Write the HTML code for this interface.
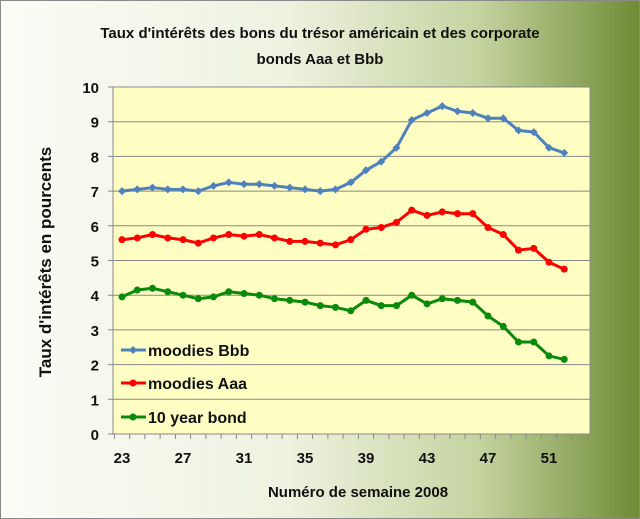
<!DOCTYPE html>
<html><head><meta charset="utf-8"><style>
body{margin:0;width:640px;height:519px;overflow:hidden}
#c{position:absolute;left:0;top:0;width:638px;height:517px;border:1px solid #8a8a8a;background:linear-gradient(to right,#fbfcf6 0%,#eef2e0 45%,#c5d3a0 75%,#6f8c35 100%)}
svg{position:absolute;left:0;top:0}
text{font-family:"Liberation Sans",sans-serif;font-weight:bold;fill:#111}
</style></head><body><div id="c"></div>
<svg id="s" width="640" height="519"></svg>
<script>
var s=document.getElementById('s'),h='';
var L=113,R=590,T=87,B=434,u=(B-T)/10;
function X(w){return 122+(w-23)*15.25}
function Y(v){return B-v*u}
h+='<rect x="'+L+'" y="'+T+'" width="'+(R-L)+'" height="'+(B-T)+'" fill="#ffffc4" stroke="#888"/>';
for(var i=0;i<=10;i++){var y=Y(i);h+='<line x1="'+(L-5)+'" x2="'+R+'" y1="'+y+'" y2="'+y+'" stroke="#888"/>';h+='<text x="'+(L-14)+'" y="'+(y+6)+'" font-size="15" text-anchor="end">'+i+'</text>';}
for(var w=22.5;w<=54;w+=1){var x=X(w);if(x>R)break;h+='<line x1="'+x+'" x2="'+x+'" y1="'+B+'" y2="'+(B+5)+'" stroke="#888"/>';}
[23,27,31,35,39,43,47,51].forEach(function(w){h+='<text x="'+X(w)+'" y="'+(B+29)+'" font-size="15" text-anchor="middle">'+w+'</text>'});
var bbb=[7.0,7.05,7.1,7.05,7.05,7.0,7.15,7.25,7.2,7.2,7.15,7.1,7.05,7.0,7.05,7.25,7.6,7.85,8.25,9.05,9.25,9.45,9.3,9.25,9.1,9.1,8.75,8.7,8.25,8.1];
var aaa=[5.6,5.65,5.75,5.65,5.6,5.5,5.65,5.75,5.7,5.75,5.65,5.55,5.55,5.5,5.45,5.6,5.9,5.95,6.1,6.45,6.3,6.4,6.35,6.35,5.95,5.75,5.3,5.35,4.95,4.75];
var ten=[3.95,4.15,4.2,4.1,4.0,3.9,3.95,4.1,4.05,4.0,3.9,3.85,3.8,3.7,3.65,3.55,3.85,3.7,3.7,4.0,3.75,3.9,3.85,3.8,3.4,3.1,2.65,2.65,2.25,2.15];
function ser(d,c,dia){var p=d.map(function(v,i){return X(23+i).toFixed(1)+','+Y(v).toFixed(1)}).join(' ');
h+='<polyline points="'+p+'" fill="none" stroke="'+c+'" stroke-width="3"/>';
d.forEach(function(v,i){var x=X(23+i),y=Y(v);if(dia)h+='<polygon points="'+x+','+(y-4)+' '+(x+4)+','+y+' '+x+','+(y+4)+' '+(x-4)+','+y+'" fill="'+c+'"/>';else h+='<circle cx="'+x+'" cy="'+y+'" r="3.5" fill="'+c+'"/>';});}
ser(bbb,'#4f81bd',1);ser(aaa,'#ff0000',0);ser(ten,'#0a8a0a',0);
[['moodies Bbb','#4f81bd',1,350],['moodies Aaa','#ff0000',0,383],['10 year bond','#0a8a0a',0,417]].forEach(function(l){
h+='<line x1="121" x2="146" y1="'+l[3]+'" y2="'+l[3]+'" stroke="'+l[1]+'" stroke-width="3"/>';
if(l[2])h+='<polygon points="133,'+(l[3]-4)+' 137,'+l[3]+' 133,'+(l[3]+4)+' 129,'+l[3]+'" fill="'+l[1]+'"/>';else h+='<circle cx="133" cy="'+l[3]+'" r="3.5" fill="'+l[1]+'"/>';
h+='<text x="148" y="'+(l[3]+6)+'" font-size="16">'+l[0]+'</text>';});
h+='<text x="320" y="38" font-size="15" text-anchor="middle">Taux d\'intérêts des bons du trésor américain et des corporate</text>';
h+='<text x="320" y="64" font-size="15" text-anchor="middle">bonds Aaa et Bbb</text>';
h+='<text x="358" y="497" font-size="15" text-anchor="middle">Numéro de semaine  2008</text>';
h+='<text transform="translate(51,262) rotate(-90)" font-size="17" text-anchor="middle">Taux d\'intérêts en pourcents</text>';
s.innerHTML=h;
</script></body></html>
